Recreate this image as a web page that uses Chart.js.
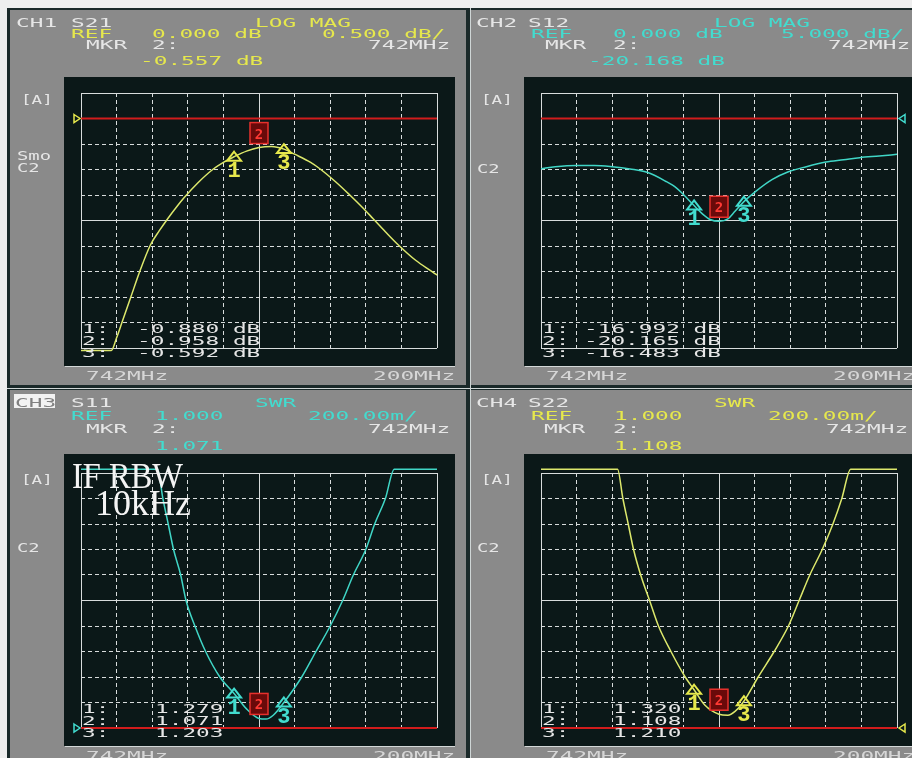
<!DOCTYPE html>
<html>
<head>
<meta charset="utf-8">
<script src="https://cdn.jsdelivr.net/npm/chart.js@4.4.0/dist/chart.umd.min.js"></script>
<style>
  html, body { margin: 0; padding: 0; background: #eeeeee; }
  #wrap { position: relative; width: 912px; height: 758px; overflow: hidden; background: #eeeeee; }
  #frame { position: absolute; left: 7px; top: 8px; width: 905px; height: 750px; background: #1a2929; }
  .hl { position: absolute; background: #cfd6d6; }
  .pan { position: absolute; }
  canvas { display: block; }
</style>
</head>
<body>
<div id="wrap">
  <div id="frame"></div>
  <div class="hl" style="left:7px;top:388px;width:905px;height:1px"></div>
  <div class="hl" style="left:470px;top:8px;width:1px;height:750px"></div>
  <div class="pan" style="left:10px;top:10px"><canvas id="c1" width="456" height="375"></canvas></div>
  <div class="pan" style="left:471px;top:10px"><canvas id="c2" width="441" height="375"></canvas></div>
  <div class="pan" style="left:10px;top:390px"><canvas id="c3" width="456" height="368"></canvas></div>
  <div class="pan" style="left:471px;top:390px"><canvas id="c4" width="441" height="368"></canvas></div>
</div>
<script>
// network analyzer screen, 4 channels, center 742 MHz / span 200 MHz

const freqTicks = [642, 662, 682, 702, 722, 742, 762, 782, 802, 822, 842];
const s21Ticks = [-4.5, -4, -3.5, -3, -2.5, -2, -1.5, -1, -0.5, 0, 0.5];
const s12Ticks = [-45, -40, -35, -30, -25, -20, -15, -10, -5, 0, 5];
const swrTicks = [1.0, 1.2, 1.4, 1.6, 1.8, 2.0, 2.2, 2.4, 2.6, 2.8, 3.0];

// CH1 S21 (dB)
const s21Freq = [642, 652, 659, 662, 665, 670, 675, 681, 686, 691, 696, 700, 708, 716, 722, 728, 735, 742, 749, 756, 762, 771, 776, 785, 793, 800, 806, 813, 820, 830, 840, 842];
const s21Db   = [-4.55, -4.55, -4.55, -4.3, -4.0, -3.5, -3.0, -2.48, -2.2, -1.95, -1.72, -1.55, -1.25, -1.0, -0.86, -0.75, -0.64, -0.57, -0.55, -0.6, -0.7, -0.86, -0.98, -1.24, -1.5, -1.74, -1.96, -2.22, -2.47, -2.78, -3.02, -3.07];

// CH2 S12 (dB)
const s12Freq = [642, 650, 662, 672, 682, 692, 702, 712, 718, 722, 727, 733, 737, 742, 747, 751, 756, 763, 772, 781, 791, 802, 812, 821, 832, 842];
const s12Db   = [-9.84, -9.45, -9.2, -9.2, -9.45, -9.9, -10.6, -12.3, -13.6, -14.9, -16.7, -18.8, -19.8, -20.15, -19.7, -18.2, -16.3, -14.2, -11.95, -10.45, -9.45, -8.55, -8.1, -7.68, -7.35, -7.03];

// CH3 S11 (SWR)
const s11Freq = [642, 685, 688, 691, 694, 698, 701, 706, 712, 720, 728, 735, 742, 746, 750, 756, 766, 774, 782, 789, 795, 802, 807, 813, 818, 842];
const s11Swr  = [3.03, 3.03, 2.8, 2.6, 2.4, 2.2, 2.0, 1.8, 1.6, 1.4, 1.27, 1.15, 1.075, 1.07, 1.1, 1.2, 1.4, 1.6, 1.8, 2.0, 2.2, 2.4, 2.6, 2.8, 3.03, 3.03];

// CH4 S22 (SWR)
const s22Freq = [642, 685, 688, 691, 694, 698, 703, 708, 715, 723, 728, 734, 742, 747, 751, 756, 764, 773, 781, 787, 793, 800, 806, 811, 816, 842];
const s22Swr  = [3.03, 3.03, 2.8, 2.6, 2.4, 2.2, 2.0, 1.8, 1.6, 1.4, 1.3, 1.18, 1.108, 1.1, 1.13, 1.21, 1.4, 1.6, 1.8, 2.0, 2.2, 2.4, 2.6, 2.8, 3.03, 3.03];

// markers 1..3 (MHz) and their readouts
const markerFreq = [728, 742, 756];
const s21Read = ['-0.880 dB', '-0.958 dB', '-0.592 dB'];
const s12Read = ['-16.992 dB', '-20.165 dB', '-16.483 dB'];
const s11Read = ['1.279', '1.071', '1.203'];
const s22Read = ['1.320', '1.108', '1.210'];

const YEL = '#e6e84c', CYA = '#42dccf', WHT = '#e6e6e6';
const TOP_ROWS = [17, 28, 39, 55], BOT_ROWS = [17, 30, 43, 60];

const panels = [
  { ch: 'CH1', col: YEL, trace: '#dde86c', f: s21Freq, v: s21Db, ticks: s21Ticks, ref: 0, refSide: 'L',
    rows: TOP_ROWS, blackTop: 16, read: s21Read, readX: 56, side: [['Smo', 150], ['C2', 162]],
    head: [['S21', -10, 0, 'w'], ['LOG MAG', 174, 0, 'c'], ['REF', -10, 1, 'c'], ['0.000 dB', 71, 1, 'c'],
           ['0.500 dB/', 241, 1, 'c'], ['MKR', 5, 2, 'w'], ['2:', 71, 2, 'w'], ['742MHz', 287, 2, 'w'], ['-0.557 dB', 59, 3, 'c']] },
  { ch: 'CH2', col: CYA, trace: '#40d6c6', f: s12Freq, v: s12Db, ticks: s12Ticks, ref: 0, refSide: 'R',
    rows: TOP_ROWS, blackTop: 16, read: s12Read, readX: 43, side: [['C2', 163]],
    head: [['S12', -13, 0, 'w'], ['LOG MAG', 173, 0, 'c'], ['REF', -10, 1, 'c'], ['0.000 dB', 72, 1, 'c'],
           ['5.000 dB/', 240, 1, 'c'], ['MKR', 4, 2, 'w'], ['2:', 72, 2, 'w'], ['742MHz', 287, 2, 'w'], ['-20.168 dB', 47, 3, 'c']] },
  { ch: 'CH3', inv: true, col: CYA, trace: '#40d6c6', f: s11Freq, v: s11Swr, ticks: swrTicks, ref: 1.0, refSide: 'L',
    rows: BOT_ROWS, blackTop: 19, read: s11Read, readX: 74, side: [['C2', 162]], rbw: true,
    head: [['S11', -10, 0, 'w'], ['SWR', 174, 0, 'c'], ['REF', -10, 1, 'c'], ['1.000', 74, 1, 'c'],
           ['200.00m/', 227, 1, 'c'], ['MKR', 5, 2, 'w'], ['2:', 71, 2, 'w'], ['742MHz', 287, 2, 'w'], ['1.071', 74, 3, 'c']] },
  { ch: 'CH4', col: YEL, trace: '#dde86c', f: s22Freq, v: s22Swr, ticks: swrTicks, ref: 1.0, refSide: 'R',
    rows: BOT_ROWS, blackTop: 19, read: s22Read, readX: 72, side: [['C2', 162]],
    head: [['S22', -13, 0, 'w'], ['SWR', 173, 0, 'c'], ['REF', -10, 1, 'c'], ['1.000', 73, 1, 'c'],
           ['200.00m/', 227, 1, 'c'], ['MKR', 3, 2, 'w'], ['2:', 72, 2, 'w'], ['742MHz', 285, 2, 'w'], ['1.108', 73, 3, 'c']] }
];

// instrument-style wide text
function txt(ctx, s, x, y, color, sx){
  ctx.save();
  ctx.font = '13px "DejaVu Sans Mono"';
  ctx.fillStyle = color;
  ctx.textAlign = 'left';
  ctx.textBaseline = 'alphabetic';
  ctx.translate(x, y);
  ctx.scale(sx || 1.75, 1);
  ctx.fillText(s, 0, 0);
  ctx.restore();
}

function interp(xs, ys, x){
  for(let i = 1; i < xs.length; i++){
    if(x <= xs[i]){
      const t = (x - xs[i-1]) / (xs[i] - xs[i-1]);
      return ys[i-1] + t * (ys[i] - ys[i-1]);
    }
  }
  return ys[ys.length - 1];
}

const vnaPlugin = {
  id: 'vna',
  beforeDraw(chart, args, opts){
    const p = panels[opts.idx];
    const {ctx, chartArea: a, width, height} = chart;
    ctx.save();
    ctx.fillStyle = '#8a8a8a';
    ctx.fillRect(0, 0, width, height);
    ctx.fillStyle = '#0b1818';
    ctx.fillRect(a.left - 17, a.top - p.blackTop, a.right - a.left + 35, a.bottom - a.top + p.blackTop + 18);
    ctx.fillStyle = '#d4d8d8';
    ctx.fillRect(a.left - 16, a.bottom + 18, a.right - a.left + 34, 1);
    ctx.restore();
  },
  afterDraw(chart, args, opts){
    const p = panels[opts.idx];
    const {ctx, chartArea: a} = chart;
    const xs = chart.scales.x, ys = chart.scales.y;
    const gl = a.left;

    // channel header
    if(p.inv){
      ctx.fillStyle = '#f2f2f2';
      ctx.fillRect(gl - 67, p.rows[0] - 13, 41, 14);
      txt(ctx, p.ch, gl - 66, p.rows[0], '#808080');
    } else {
      txt(ctx, p.ch, gl - 65, p.rows[0], WHT);
    }
    p.head.forEach(([t, dx, row, c]) => txt(ctx, t, gl + dx, p.rows[row], c === 'c' ? p.col : WHT));

    // left side labels
    txt(ctx, '[A]', gl - 60, 94, WHT, 1.35);
    p.side.forEach(([t, y]) => txt(ctx, t, gl - 64, y, WHT, 1.45));

    // start / span labels
    txt(ctx, '742MHz', gl + 5, a.bottom + 32, '#d6d6d6');
    txt(ctx, '200MHz', a.right - 64, a.bottom + 32, '#d6d6d6');

    // marker readout list
    const rowY = [-15, -3, 9];
    p.read.forEach((r, i) => {
      txt(ctx, (i + 1) + ':', gl + 1, a.bottom + rowY[i], WHT);
      txt(ctx, r, gl + p.readX, a.bottom + rowY[i], WHT);
    });

    // reference position triangle
    const ry = ys.getPixelForValue(p.ref);
    ctx.save();
    ctx.strokeStyle = p.col;
    ctx.lineWidth = 1.5;
    ctx.beginPath();
    if(p.refSide === 'L'){
      ctx.moveTo(gl - 7, ry - 4); ctx.lineTo(gl - 1, ry); ctx.lineTo(gl - 7, ry + 4);
    } else {
      ctx.moveTo(a.right + 8, ry - 4); ctx.lineTo(a.right + 2, ry); ctx.lineTo(a.right + 8, ry + 4);
    }
    ctx.closePath();
    ctx.stroke();
    ctx.restore();

    // markers
    markerFreq.forEach((f, i) => {
      const px = xs.getPixelForValue(f);
      const py = ys.getPixelForValue(interp(p.f, p.v, f));
      ctx.save();
      if(i === 1){
        ctx.fillStyle = '#6a0a0a';
        ctx.fillRect(px - 9, py - 25, 18, 21);
        ctx.strokeStyle = '#e8302c';
        ctx.lineWidth = 1.5;
        ctx.strokeRect(px - 9, py - 25, 18, 21);
        ctx.fillStyle = '#ff3a34';
        ctx.font = 'bold 14px "DejaVu Sans Mono"';
        ctx.textAlign = 'center';
        ctx.fillText('2', px, py - 9);
      } else {
        ctx.strokeStyle = p.col;
        ctx.lineWidth = 2;
        ctx.beginPath();
        ctx.moveTo(px, py - 5); ctx.lineTo(px + 7, py + 4); ctx.lineTo(px - 7, py + 4);
        ctx.closePath();
        ctx.stroke();
        ctx.fillStyle = p.col;
        ctx.font = 'bold 22px "Liberation Mono"';
        ctx.textAlign = 'center';
        ctx.fillText(String(i + 1), px, py + 20);
      }
      ctx.restore();
    });

    if(p.rbw){
      ctx.save();
      ctx.fillStyle = '#f4f4f4';
      ctx.font = '36px "Liberation Serif"';
      ctx.fillText('IF RBW', gl - 9, 98, 111);
      ctx.fillText('10kHz', gl + 14, 125);
      ctx.restore();
    }
  }
};

function axis(ticks){
  const last = ticks.length - 1, mid = last / 2;
  return {
    type: 'linear',
    min: ticks[0],
    max: ticks[last],
    afterBuildTicks: s => { s.ticks = ticks.map(v => ({value: v})); },
    ticks: { display: false },
    grid: { color: '#d8dcdc', lineWidth: 1, drawTicks: false },
    border: { display: false, dash: c => (c.index === 0 || c.index === last || c.index === mid) ? [] : [4, 3] }
  };
}

const pads = [
  {left: 71, right: 29, top: 83, bottom: 37},
  {left: 70, right: 15, top: 83, bottom: 37},
  {left: 71, right: 29, top: 83, bottom: 30},
  {left: 70, right: 15, top: 83, bottom: 30}
];

panels.forEach((p, k) => {
  new Chart(document.getElementById('c' + (k + 1)), {
    type: 'line',
    data: {
      datasets: [
        { data: p.f.map((f, i) => ({x: f, y: p.v[i]})), borderColor: p.trace, borderWidth: 1.5,
          pointRadius: 0, cubicInterpolationMode: 'monotone', clip: false },
        { data: [{x: freqTicks[0], y: p.ref}, {x: freqTicks[freqTicks.length - 1], y: p.ref}],
          borderColor: '#d21c1c', borderWidth: 2, pointRadius: 0, clip: false }
      ]
    },
    options: {
      responsive: false,
      animation: false,
      events: [],
      layout: { padding: pads[k] },
      plugins: { legend: { display: false }, tooltip: { enabled: false }, vna: { idx: k } },
      scales: { x: axis(freqTicks), y: axis(p.ticks) }
    },
    plugins: [vnaPlugin]
  });
});
</script>
</body>
</html>
